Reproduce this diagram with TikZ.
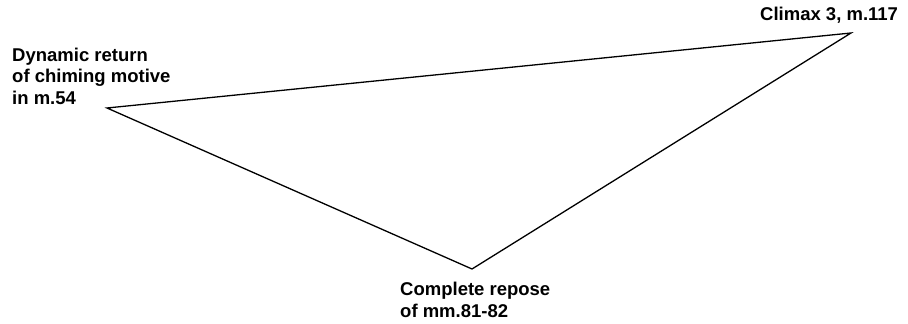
\documentclass[tikz,border=0pt]{standalone}
\usepackage{fontspec}
\setmainfont{Liberation Sans}
\begin{document}
\begin{tikzpicture}[x=1pt,y=-1pt,
  lbl/.style={inner sep=0pt,align=left,font={\fontsize{18.5}{21.5}\bfseries\selectfont}},
  edge/.style={line width=1.3pt,line join=miter}]
\useasboundingbox[fill=white] (0,0) rectangle (908,324);
\coordinate (L) at (107,108);
\coordinate (T) at (851,33);
\coordinate (B) at (472,269);
\draw[edge] (L) -- (T) -- (B) -- cycle;
\node[lbl,anchor=north west] (dyn) at (12,47.5) {Dynamic return\\of chiming motive\\in m.54};
\node[lbl,anchor=north west] (clim) at (760,7) {Climax 3, m.117};
\node[lbl,anchor=north west] (rep) at (400,282) {Complete repose\\of mm.81-82};
\end{tikzpicture}
\end{document}
